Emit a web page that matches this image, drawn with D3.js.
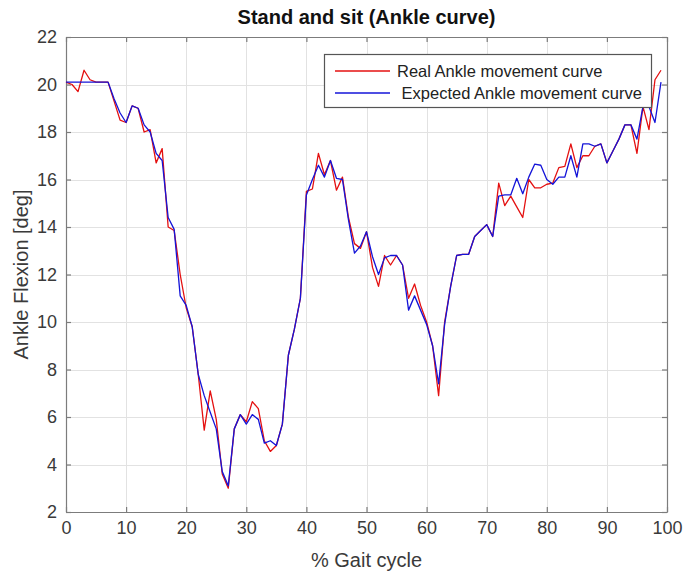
<!DOCTYPE html>
<html>
<head>
<meta charset="utf-8">
<script src="https://cdn.jsdelivr.net/npm/d3@7/dist/d3.min.js"></script>
<style>
  body { margin: 0; background: #fff; }
  svg { display: block; }
  text { font-family: "Liberation Sans", Arial, Helvetica, sans-serif; }
</style>
</head>
<body>
<svg id="chart" width="684" height="572"></svg>
<script>
// % of gait cycle sampled every 1%
const gaitPct = d3.range(0, 100);

// Measured ankle flexion [deg]
const realAnkle = [
  20.1, 20.0, 19.7, 20.6, 20.2, 20.1, 20.1, 20.1, 19.3, 18.5,
  18.4, 19.1, 19.0, 18.0, 18.1, 16.7, 17.3, 14.0, 13.85, 12.0,
  10.6, 9.8, 7.8, 5.45, 7.1, 5.9, 3.6, 3.0, 5.5, 6.1,
  5.8, 6.65, 6.35, 5.0, 4.55, 4.8, 5.7, 8.6, 9.7, 11.0,
  15.5, 15.6, 17.1, 16.2, 16.8, 15.55, 16.1, 14.4, 13.3, 13.1,
  13.8, 12.3, 11.5, 12.8, 12.4, 12.8, 12.4, 11.0, 11.6, 10.7,
  10.0, 9.0, 6.9, 10.0, 11.5, 12.8, 12.85, 12.85, 13.6, 13.85,
  14.1, 13.6, 15.85, 14.9, 15.3, 14.85, 14.4, 16.0, 15.65, 15.65,
  15.8, 15.85, 16.5, 16.55, 17.5, 16.5, 17.0, 17.0, 17.4, 17.5,
  16.7, 17.2, 17.7, 18.3, 18.3, 17.1, 19.07, 18.1, 20.2, 20.6
];

// Reference (expected) ankle flexion [deg]
const expectedAnkle = [
  20.1, 20.1, 20.1, 20.1, 20.1, 20.1, 20.1, 20.1, 19.4, 18.8,
  18.4, 19.1, 19.0, 18.3, 18.0, 17.1, 16.8, 14.4, 13.9, 11.1,
  10.7, 9.8, 7.8, 6.9, 6.2, 5.5, 3.7, 3.1, 5.5, 6.1,
  5.7, 6.1, 5.9, 4.9, 5.0, 4.8, 5.7, 8.6, 9.7, 11.0,
  15.35, 16.0, 16.6, 16.1, 16.8, 16.05, 16.0, 14.3, 12.9, 13.2,
  13.8, 12.75, 12.0, 12.7, 12.8, 12.8, 12.4, 10.5, 11.1, 10.5,
  9.9, 9.0, 7.4, 9.9, 11.5, 12.8, 12.85, 12.85, 13.6, 13.85,
  14.1, 13.6, 15.3, 15.35, 15.35, 16.05, 15.4, 16.1, 16.65, 16.6,
  16.0, 15.8, 16.1, 16.1, 17.0, 16.1, 17.5, 17.5, 17.4, 17.5,
  16.7, 17.2, 17.7, 18.3, 18.3, 17.7, 19.07, 19.07, 18.4, 20.1
];

const xTicks = [0, 10, 20, 30, 40, 50, 60, 70, 80, 90, 100];
const yTicks = [2, 4, 6, 8, 10, 12, 14, 16, 18, 20, 22];

const seriesNames = ["Real Ankle movement curve", " Expected Ankle movement curve"];
const seriesColors = ["#e41010", "#1414d8"];

const W = 684, H = 572;
const plot = { left: 66, right: 667, top: 37, bottom: 512 };
const axisColor = "#7c7c7c";
const textColor = "#3a3a3a";

const svg = d3.select("#chart");

const x = d3.scaleLinear().domain([0, 100]).range([plot.left, plot.right]);
const y = d3.scaleLinear().domain([2, 22]).range([plot.bottom, plot.top]);

// grid
const grid = svg.append("g").attr("stroke", "#e2e2e2").attr("stroke-width", 1);
grid.selectAll("line.gx").data(xTicks.slice(1, -1)).join("line")
  .attr("x1", d => Math.round(x(d)) + 0.5).attr("x2", d => Math.round(x(d)) + 0.5)
  .attr("y1", plot.top).attr("y2", plot.bottom);
grid.selectAll("line.gy").data(yTicks.slice(1, -1)).join("line")
  .attr("y1", d => Math.round(y(d)) + 0.5).attr("y2", d => Math.round(y(d)) + 0.5)
  .attr("x1", plot.left).attr("x2", plot.right);

// axes (ticks pointing inward, box on)
function styleAxis(g) {
  g.selectAll("path.domain").attr("stroke", axisColor).attr("stroke-width", 1.2);
  g.selectAll(".tick line").attr("stroke", axisColor).attr("stroke-width", 1.2);
  g.selectAll(".tick text").attr("fill", textColor).attr("font-size", 18)
    .attr("font-family", "'Liberation Sans', Arial, sans-serif");
}

svg.append("g").attr("transform", `translate(0,${plot.bottom})`)
  .call(d3.axisBottom(x).tickValues(xTicks).tickSizeInner(-5).tickSizeOuter(0).tickPadding(9))
  .call(styleAxis);
svg.append("g").attr("transform", `translate(0,${plot.top})`)
  .call(d3.axisTop(x).tickValues(xTicks).tickSizeInner(-5).tickSizeOuter(0).tickFormat(""))
  .call(styleAxis);
svg.append("g").attr("transform", `translate(${plot.left},0)`)
  .call(d3.axisLeft(y).tickValues(yTicks).tickSizeInner(-5).tickSizeOuter(0).tickPadding(9))
  .call(styleAxis);
svg.append("g").attr("transform", `translate(${plot.right},0)`)
  .call(d3.axisRight(y).tickValues(yTicks).tickSizeInner(-5).tickSizeOuter(0).tickFormat(""))
  .call(styleAxis);

// curves
const line = d3.line().x((d, i) => x(gaitPct[i])).y(d => y(d));
[realAnkle, expectedAnkle].forEach((s, k) => {
  svg.append("path").datum(s)
    .attr("fill", "none")
    .attr("stroke", seriesColors[k])
    .attr("stroke-width", 1.3)
    .attr("stroke-linejoin", "round")
    .attr("d", line);
});

// title and axis labels
svg.append("text").attr("x", (plot.left + plot.right) / 2).attr("y", 24)
  .attr("text-anchor", "middle").attr("font-size", 20).attr("font-weight", "bold")
  .attr("fill", "#111").text("Stand and sit (Ankle curve)");
svg.append("text").attr("x", (plot.left + plot.right) / 2).attr("y", 567)
  .attr("text-anchor", "middle").attr("font-size", 20)
  .attr("fill", textColor).text("% Gait cycle");
svg.append("text")
  .attr("transform", `translate(28,${(plot.top + plot.bottom) / 2}) rotate(-90)`)
  .attr("text-anchor", "middle").attr("font-size", 20)
  .attr("fill", textColor).text("Ankle Flexion [deg]");

// legend
const lg = svg.append("g");
lg.append("rect").attr("x", 324.5).attr("y", 54.5).attr("width", 327).attr("height", 53)
  .attr("fill", "#fff").attr("stroke", "#555").attr("stroke-width", 1.2);
seriesNames.forEach((name, k) => {
  const cy = 71 + k * 22;
  lg.append("line").attr("x1", 335).attr("x2", 390).attr("y1", cy).attr("y2", cy)
    .attr("stroke", seriesColors[k]).attr("stroke-width", 1.3);
  lg.append("text").attr("x", 397).attr("y", cy + 6)
    .attr("font-size", 16.5).attr("fill", "#222")
    .attr("xml:space", "preserve").style("white-space", "pre").text(name);
});
</script>
</body>
</html>
